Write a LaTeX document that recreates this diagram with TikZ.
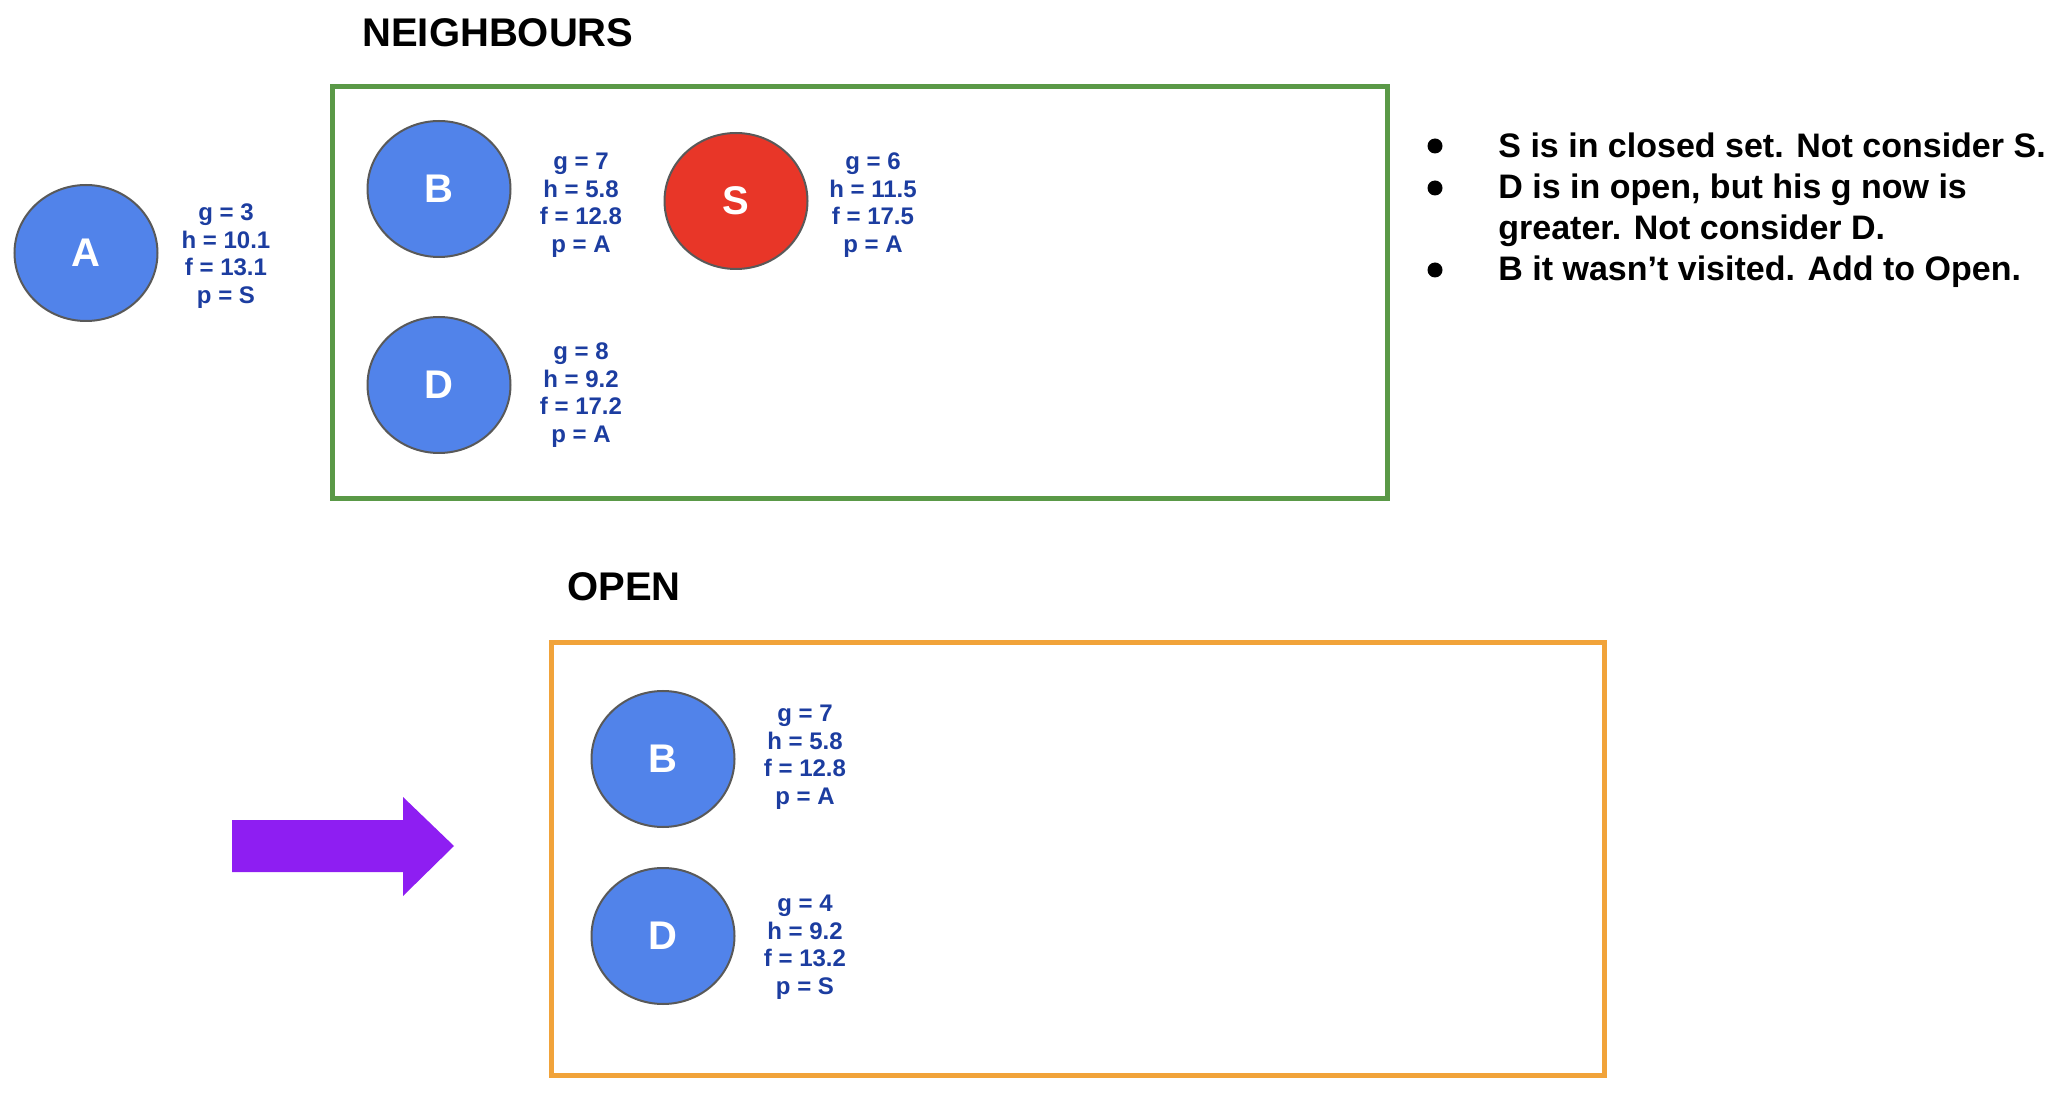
\documentclass[tikz,border=0pt]{standalone}
\usepackage{fontspec}
\setmainfont{Liberation Sans}
\usetikzlibrary{shapes.geometric}
\definecolor{nodeblue}{RGB}{81,131,234}
\definecolor{nodered}{RGB}{232,54,40}
\definecolor{statblue}{RGB}{28,61,160}
\definecolor{rimgray}{RGB}{89,89,89}
\definecolor{boxgreen}{RGB}{90,153,71}
\definecolor{boxorange}{RGB}{241,163,58}
\definecolor{arrowpurple}{RGB}{142,30,242}
\tikzset{
  vertex/.style={ellipse, draw=rimgray, line width=1pt, fill=nodeblue, text=white,
    minimum width=71.5pt, minimum height=68pt, inner sep=0pt,
    font=\fontsize{20}{24}\selectfont\bfseries},
  closedvertex/.style={vertex, fill=nodered},
  stats/.style={align=center, text=statblue, inner sep=0pt,
    font=\fontsize{12}{13.75}\selectfont\bfseries},
  title/.style={anchor=west, inner sep=0pt, font=\fontsize{20}{24}\selectfont\bfseries},
  bullettext/.style={anchor=base west, inner sep=0pt, font=\fontsize{17}{20}\selectfont\bfseries},
  setbox/.style={line width=2.5pt},
}
\begin{document}
\begin{tikzpicture}[x=0.5pt, y=-0.5pt]
\useasboundingbox (0,0) rectangle (2058,1096);
% left node A
\node[vertex] (A) at (86,253) {A};
\node[stats] (Astats) at (226,256) {g = 3\\h = 10.1\\f = 13.1\\p = S};
% neighbours
\node[title] (ntitle) at (362,33) {NEIGHBOURS};
\draw[setbox, draw=boxgreen] (332,87) rectangle (1387,499);
\node[vertex] (B) at (439,189) {B};
\node[stats] (Bstats) at (581,205) {g = 7\\h = 5.8\\f = 12.8\\p = A};
\node[closedvertex] (S) at (736,201) {S};
\node[stats] (Sstats) at (873,205) {g = 6\\h = 11.5\\f = 17.5\\p = A};
\node[vertex] (D) at (439,385) {D};
\node[stats] (Dstats) at (581,395) {g = 8\\h = 9.2\\f = 17.2\\p = A};
% bullets
\fill (1435,146) circle (7.5);
\fill (1435,188) circle (7.5);
\fill (1435,270) circle (7.5);
\node[bullettext] (l1) at (1498,158) {S is in closed set. Not consider S.};
\node[bullettext] (l2) at (1498,199) {D is in open, but his g now is};
\node[bullettext] (l3) at (1498,240) {greater. Not consider D.};
\node[bullettext] (l4) at (1498,281) {B it wasn’t visited. Add to Open.};
% open
\node[title] (otitle) at (567,587) {OPEN};
\draw[setbox, draw=boxorange] (551,643) rectangle (1604,1075);
\node[vertex] (OB) at (663,759) {B};
\node[stats] (OBstats) at (805,757) {g = 7\\h = 5.8\\f = 12.8\\p = A};
\node[vertex] (OD) at (663,936) {D};
\node[stats] (ODstats) at (805,947) {g = 4\\h = 9.2\\f = 13.2\\p = S};
% purple arrow
\fill[arrowpurple] (232,820) -- (403,820) -- (403,797) -- (454,846) -- (403,896) -- (403,872) -- (232,872) -- cycle;
\end{tikzpicture}
\end{document}
